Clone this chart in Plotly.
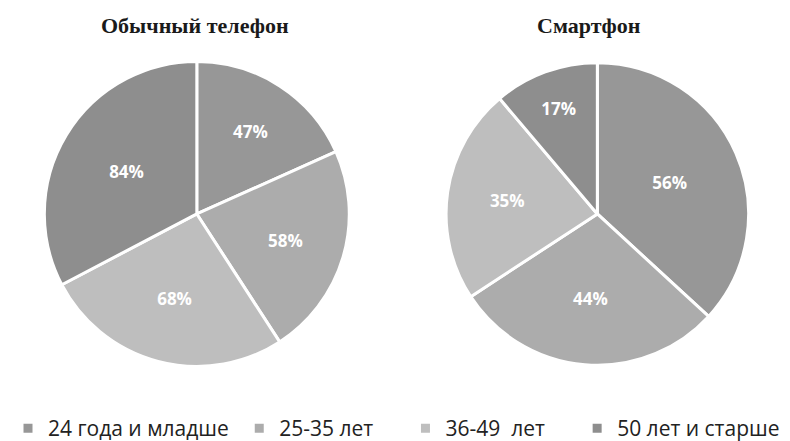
import plotly.graph_objects as go

categories = ["24 года и младше", "25-35 лет", "36-49  лет", "50 лет и старше"]
regular_phone = [47, 58, 68, 84]
smartphone = [56, 44, 35, 17]
titles = ["Обычный телефон", "Смартфон"]
colors = ["#979797", "#acacac", "#bebebe", "#8e8e8e"]

# trailing non-breaking spaces widen the gaps between legend entries
legend_pad = [1, 5, 5, 0]
legend_labels = [c + "\u00a0" * p for c, p in zip(categories, legend_pad)]

fig = go.Figure()

common = dict(
    labels=legend_labels,
    text=categories,
    sort=False,
    direction="clockwise",
    rotation=0,
    marker=dict(colors=colors, line=dict(color="white", width=3)),
    texttemplate="%{value}%",
    textposition="inside",
    insidetextorientation="horizontal",
    textfont=dict(family="Open Sans", size=17, color="white", weight="bold"),
    hovertemplate="%{text}: %{value}%<extra>%{fullData.name}</extra>",
)

fig.add_trace(go.Pie(values=regular_phone, name=titles[0],
                     domain=dict(x=[0.046, 0.432], y=[0.187, 0.879]), **common))
fig.add_trace(go.Pie(values=smartphone, name=titles[1], showlegend=False,
                     domain=dict(x=[0.553, 0.939], y=[0.19, 0.876]), **common))

for title, xc in zip(titles, [0.237, 0.736]):
    fig.add_annotation(text=f"<b>{title}</b>", x=xc, y=0.961, xref="paper", yref="paper",
                       xanchor="center", yanchor="middle", showarrow=False,
                       font=dict(family="Liberation Serif", size=22, color="#1a1a1a"))

fig.update_layout(
    width=790, height=441,
    margin=dict(l=0, r=0, t=0, b=0),
    paper_bgcolor="white",
    plot_bgcolor="white",
    legend=dict(orientation="h", x=0.0, y=0.0, xanchor="left", yanchor="bottom",
                font=dict(family="Open Sans", size=21, color="#222222"),
                itemwidth=30, traceorder="normal"),
)

fig.write_html("out.html")
